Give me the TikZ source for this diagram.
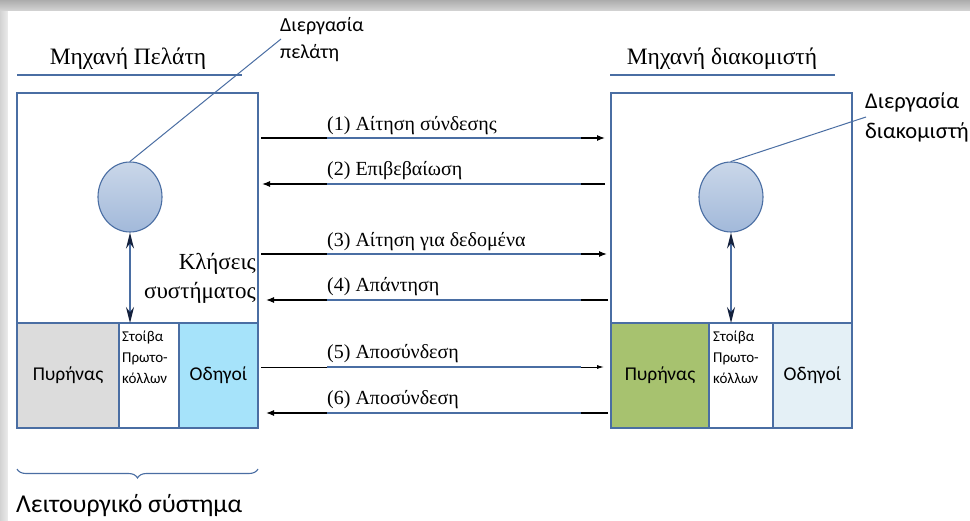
\documentclass[tikz,border=0pt]{standalone}
\usepackage{fontspec}
\setmainfont{Liberation Serif}
\newfontfamily\uisans{Carlito}
\usetikzlibrary{arrows.meta,decorations.pathreplacing,shapes.geometric,shadows}

\definecolor{frameblue}{HTML}{4A6EA3}
\definecolor{procTop}{HTML}{CAD7E9}
\definecolor{procBot}{HTML}{A2B9DA}
\definecolor{kernGray}{HTML}{DCDCDC}
\definecolor{drvCyan}{HTML}{A6E3FA}
\definecolor{kernGreen}{HTML}{A7C26F}
\definecolor{drvPale}{HTML}{E4F0F6}
\definecolor{tipNavy}{HTML}{14213D}

\begin{document}
\begin{tikzpicture}[x=1pt,y=-1pt,
  box/.style={draw=frameblue,line width=1.3pt,anchor=north west,inner sep=0pt,outer sep=0pt,
    fill=white,drop shadow={shadow xshift=1.2pt,shadow yshift=-1.2pt,opacity=0.35}},
  cell/.style={box,minimum height=105pt},
  proc/.style={ellipse,draw=frameblue,line width=1.1pt,minimum width=64pt,minimum height=70pt,
    top color=procTop,bottom color=procBot,inner sep=0pt},
  title/.style={font=\fontsize{23.5pt}{28pt}\selectfont,anchor=base,inner sep=0pt},
  rule/.style={draw=frameblue,line width=1.4pt},
  msglabel/.style={font=\fontsize{20pt}{24pt}\selectfont,anchor=base west,inner sep=0pt},
  msg/.style={line width=1.2pt,-{Latex[length=8pt,width=6pt]}},
  strip/.style={draw=frameblue,line width=1.2pt},
  leader/.style={draw=frameblue,line width=1pt},
  note/.style={font=\uisans\fontsize{20pt}{27pt}\selectfont,align=left,anchor=north west,inner sep=0pt},
  celltext/.style={font=\uisans\fontsize{19.5pt}{23pt}\selectfont,inner sep=0pt},
  stacktext/.style={font=\uisans\fontsize{15pt}{21pt}\selectfont,align=left,anchor=north west,inner sep=0pt},
  syscall/.style={font=\fontsize{23pt}{29pt}\selectfont,align=right,anchor=north east,inner sep=0pt},
  updown/.style={draw=frameblue,line width=1.1pt,
    {Stealth[length=16pt,width=8pt,color=tipNavy]}-{Stealth[length=16pt,width=8pt,color=tipNavy]}}
]
\useasboundingbox (0,0) rectangle (970,521);

% soft grey page edge behind the white sheet
\shade[top color=gray!65,bottom color=gray!30] (0,0) rectangle (970,12);
\shade[left color=gray!35,right color=gray!15] (0,12) rectangle (8,521);
\fill[white] (8,11) rectangle (970,521);

% ---------- client machine ----------
\node[title] (ltitle) at (128,65) {Μηχανή Πελάτη};
\draw[rule] (17,75) -- (242,75);
\node[box,minimum width=241pt,minimum height=230pt] (lup) at (17,93) {};
\node[cell,minimum width=102pt,fill=kernGray] (lker) at (17,323) {};
\node[cell,minimum width=60pt] (lstk) at (119,323) {};
\node[cell,minimum width=79pt,fill=drvCyan] (ldrv) at (179,323) {};
\node[celltext] at (lker) {Πυρήνας};
\node[celltext] at (ldrv) {Οδηγοί};
\node[stacktext] (lstktxt) at (122,331) {Στοίβα\\Πρωτο-\\κόλλων};

\node[proc] (lproc) at (130,197) {};
\draw[updown] (lproc.south) -- (lproc.south |- lstk.north);
\node[note] (lnote) at (280,17) {Διεργασία\\πελάτη};
\coordinate (lnotetip) at (281,39);
\draw[leader] (lproc.north) -- (lnotetip);

\node[syscall] (sys) at (256,253) {Κλήσεις\\συστήματος};

% operating system brace
\draw[frameblue,line width=1.1pt,decorate,decoration={brace,mirror,amplitude=9pt}]
  (lker.south west) ++(0,41) coordinate (bl) -- (ldrv.south east |- bl);
\node[font=\uisans\fontsize{25.7pt}{30pt}\selectfont,anchor=base west,inner sep=0pt] (os) at (16,512) {Λειτουργικό σύστημα};

% ---------- server machine ----------
\node[title] (rtitle) at (722,65) {Μηχανή διακομιστή};
\draw[rule] (610,75) -- (835,75);
\node[box,minimum width=241pt,minimum height=230pt] (rup) at (611,93) {};
\node[cell,minimum width=98pt,fill=kernGreen] (rker) at (611,323) {};
\node[cell,minimum width=64pt] (rstk) at (709,323) {};
\node[cell,minimum width=79pt,fill=drvPale] (rdrv) at (773,323) {};
\node[celltext] at (rker) {Πυρήνας};
\node[celltext] at (rdrv) {Οδηγοί};
\node[stacktext] (rstktxt) at (713,331) {Στοίβα\\Πρωτο-\\κόλλων};

\node[proc] (rproc) at (731,197) {};
\draw[updown] (rproc.south) -- (rproc.south |- rstk.north);
\node[note,font=\uisans\fontsize{22.5pt}{30pt}\selectfont] (rnote) at (865,92) {Διεργασία\\διακομιστή};
\coordinate (rnotetip) at (866,117);
\draw[leader] (rproc.north) -- (rnotetip);

% ---------- messages ----------
\coordinate (a1l) at (261,138); \coordinate (a1r) at (605,138);
\coordinate (a2l) at (262,184); \coordinate (a2r) at (605,184);
\coordinate (a3l) at (261,254); \coordinate (a3r) at (607,254);
\coordinate (a4l) at (266,300); \coordinate (a4r) at (608,300);
\coordinate (a5l) at (261,367); \coordinate (a5r) at (604,367);
\coordinate (a6l) at (266,413); \coordinate (a6r) at (608,413);

\draw[msg] (a1l) -- (a1r);
\draw[msg] (a2r) -- (a2l);
\draw[msg] (a3l) -- (a3r);
\draw[msg] (a4r) -- (a4l);
\draw[msg,line width=0.9pt,-{Latex[length=7pt,width=4pt]}] (a5l) -- (a5r);
\draw[msg] (a6r) -- (a6l);

\foreach \k in {1,...,6}{
  \draw[strip] ([xshift=66pt]a\k l -| 261,0) -- ([xshift=320pt]a\k l -| 261,0);
}

\node[msglabel] (m1) at (327,131) {(1) Αίτηση σύνδεσης};
\node[msglabel] (m2) at (327,176) {(2) Επιβεβαίωση};
\node[msglabel] (m3) at (327,247) {(3) Αίτηση για δεδομένα};
\node[msglabel] (m4) at (327,292) {(4) Απάντηση};
\node[msglabel] (m5) at (327,359) {(5) Αποσύνδεση};
\node[msglabel] (m6) at (327,405) {(6) Αποσύνδεση};
\end{tikzpicture}
\end{document}
